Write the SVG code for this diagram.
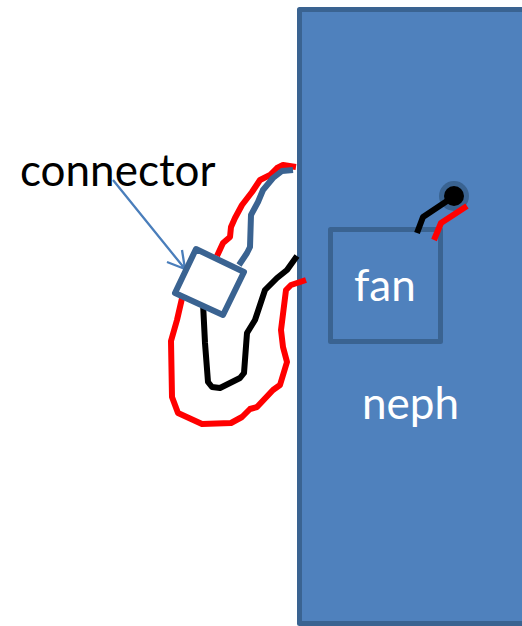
<svg xmlns="http://www.w3.org/2000/svg" width="522" height="626" viewBox="0 0 522 626">
<style>
.w{fill:none;stroke-width:6;stroke-linejoin:round}
.r{stroke:#f00}.k{stroke:#000}.b{stroke:#3a6391}
.s{stroke:#3a6391;stroke-width:5;stroke-linejoin:round}
text{font-family:Lato,"Liberation Sans",sans-serif;font-size:44px}
</style>
<rect width="522" height="626" fill="#fff"/>
<g id="neph">
<rect class="s" x="299.500" y="9.500" width="240" height="614" fill="#4f81bd"/>
<text x="362" y="419" fill="#fff">neph</text>
</g>
<g id="fan">
<rect class="s" x="330.500" y="229.500" width="110" height="112" fill="none"/>
<text x="354" y="301" fill="#fff">fan</text>
</g>
<g id="terminal">
<circle cx="454" cy="196" r="15" fill="#3a6391"/>
<circle cx="454" cy="196" r="10" fill="#000"/>
</g>
<g id="connectors">
<path class="w r" d="M296 167L283 165L277 168L270 175L260 180L252 192L242 205L235 218L231 227L230 237L223 243L217 256"/>
<path class="w r" d="M183 294L177 320L171 341L172 397L178 413L202 424L231 423L242 417L250 409L257 407L273 390L280 385L287 362L283 347L281 330L286 290L291 285L306 280"/>
<path class="w b" d="M293 170L282 171L273 178L263 190L258 202L251 215L250 247L247 253L239 265"/>
<path class="w k" d="M297 256L287 270L277 278L265 290L260 305L255 320L247 333L244 373L240 378L220 388L212 387L208 382L205 343L203 303"/>
<path class="w k" d="M417 233L423 217L447 201"/>
<path class="w r" d="M434 240L441 223L467 206"/>
<path d="M113 180L185 269M182 250L185 269L167 262" fill="none" stroke="#4a7ebb" stroke-width="2.300"/>
</g>
<g id="connector">
<path class="s" style="stroke-width:6" d="M196 249L244 272L223 315L175 293Z" fill="#fff"/>
<text x="20" y="186" fill="#000">connector</text>
</g>
</svg>
